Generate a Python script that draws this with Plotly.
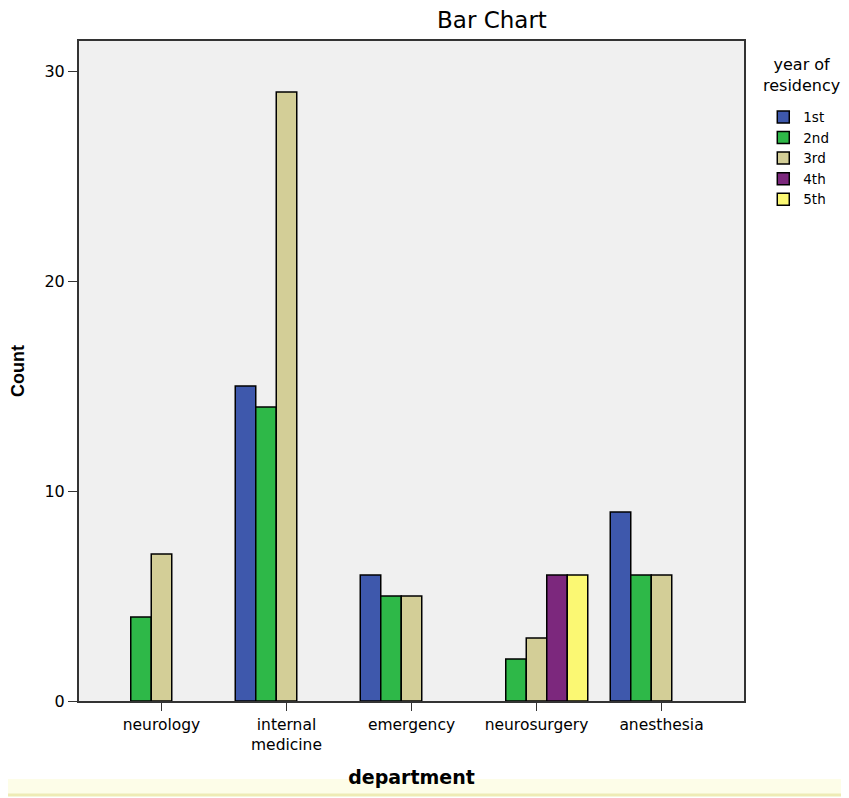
import plotly.graph_objects as go

departments = ["neurology", "internal<br>medicine", "emergency", "neurosurgery", "anesthesia"]
years = ["1st", "2nd", "3rd", "4th", "5th"]
count_1st = [0, 15, 6, 0, 9]
count_2nd = [4, 14, 5, 2, 6]
count_3rd = [7, 29, 5, 3, 6]
count_4th = [0, 0, 0, 6, 0]
count_5th = [0, 0, 0, 6, 0]
colors = ["#3E58AC", "#2EB848", "#D3CE97", "#7C287D", "#FBF873"]

series = [count_1st, count_2nd, count_3rd, count_4th, count_5th]

fig = go.Figure()
for name, vals, col in zip(years, series, colors):
    fig.add_trace(go.Bar(
        x=departments,
        y=[v if v > 0 else None for v in vals],
        name=name,
        marker=dict(color=col, line=dict(color="#000000", width=1.5)),
    ))

DJ = "DejaVu Sans, Verdana, sans-serif"
LB = "Liberation Sans, Arial, sans-serif"

fig.update_layout(
    width=849, height=798,
    barmode="group", bargap=0.18, bargroupgap=0,
    paper_bgcolor="#FFFFFF", plot_bgcolor="#F0F0F0",
    margin=dict(l=71, r=113, t=33, b=105),
    font=dict(family=DJ, color="#000000", size=14),
    title=dict(text="Bar Chart", xref="paper", x=0.621, xanchor="center",
               y=0.985, yanchor="middle", font=dict(family=DJ, size=23, color="#000000")),
    legend=dict(
        x=1.029, xanchor="left", y=0.908, yanchor="top",
        font=dict(family=DJ, size=13.5), itemwidth=30, tracegroupgap=0,
        bgcolor="rgba(0,0,0,0)",
    ),
    annotations=[dict(
        text="year of<br>residency", xref="paper", yref="paper", x=1.086, y=0.948,
        xanchor="center", yanchor="middle", showarrow=False, align="center",
        font=dict(family=DJ, size=16, color="#000000"),
    )],
    xaxis=dict(
        range=[-0.66, 4.66], showgrid=False, showline=True, linecolor="#333333", linewidth=2,
        mirror=True, ticks="outside", ticklen=8, tickcolor="#333333", tickwidth=1,
        tickfont=dict(family=DJ, size=15.5), automargin=False,
        title=dict(text="<b>department</b>", font=dict(family=DJ, size=19), standoff=18),
    ),
    yaxis=dict(
        range=[0, 31.43], showgrid=False, showline=True, linecolor="#333333", linewidth=2,
        mirror=True, ticks="outside", ticklen=9, tickcolor="#333333", tickwidth=1,
        tickvals=[0, 10, 20, 30], tickfont=dict(family=DJ, size=16), zeroline=False,
        automargin=False,
        title=dict(text="<b>Count</b>", font=dict(family=LB, size=18), standoff=16),
    ),
    shapes=[
        dict(type="rect", xref="paper", yref="paper", x0=-0.2, x1=1.2,
             y0=-0.141, y1=-0.118, fillcolor="#FDFDE8", line=dict(width=0), layer="below"),
        dict(type="line", xref="paper", yref="paper", x0=-0.2, x1=1.2,
             y0=-0.1424, y1=-0.1424, line=dict(color="#EEEBB5", width=3)),
    ],
)

fig.write_html("out.html")
